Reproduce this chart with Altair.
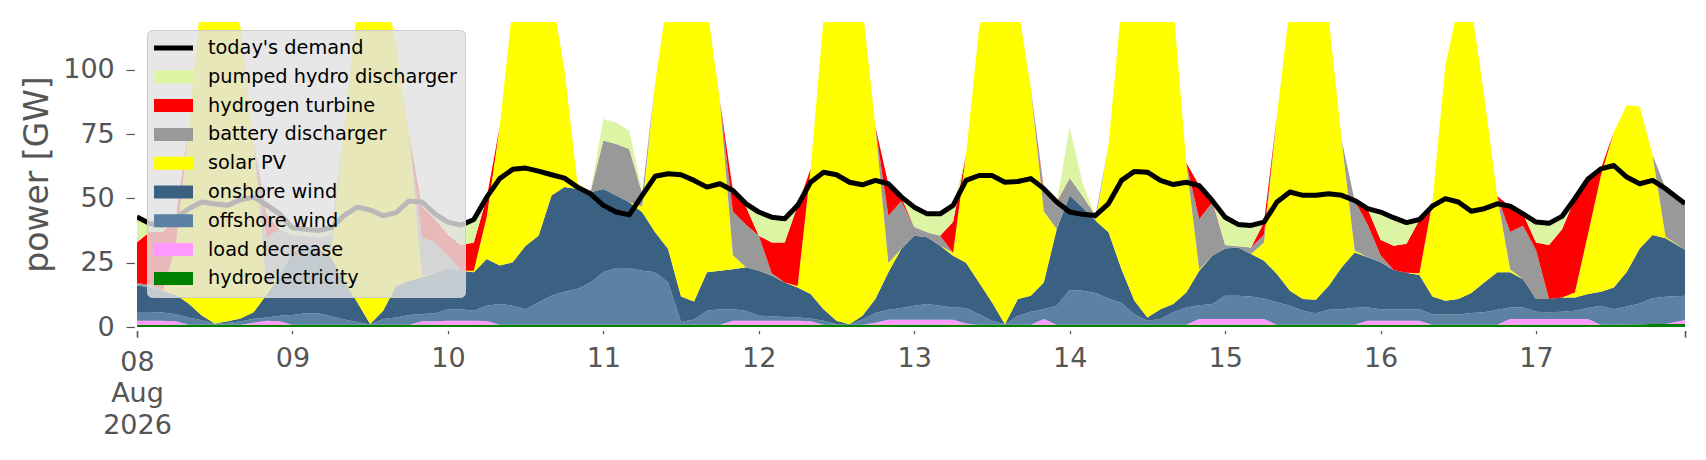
import altair as alt
import pandas as pd

# hours after 2026-08-08 00:00 UTC (2-hourly, last sample at 23:00 of the 17th)
hours = list(range(0, 237, 2)) + [239]

hydroelectricity = [
    0.9, 0.9, 0.9, 0.9, 0.9, 0.9, 0.9, 0.9, 0.9, 0.9, 0.9, 0.9,
    0.9, 0.9, 0.9, 0.9, 0.9, 0.9, 0.9, 0.9, 0.9, 0.9, 0.9, 0.9,
    0.9, 0.9, 0.9, 0.9, 0.9, 0.9, 0.9, 0.9, 0.9, 0.9, 0.9, 0.9,
    0.9, 0.9, 0.9, 0.9, 0.9, 0.9, 0.9, 0.9, 0.9, 0.9, 0.9, 0.9,
    0.9, 0.9, 0.9, 0.9, 0.9, 0.9, 0.9, 0.9, 0.9, 0.9, 0.9, 0.9,
    0.9, 0.9, 0.9, 0.9, 0.9, 0.9, 0.9, 0.9, 0.9, 0.9, 0.9, 0.9,
    0.9, 0.9, 0.9, 0.9, 0.9, 0.9, 0.9, 0.9, 0.9, 0.9, 0.9, 0.9,
    0.9, 0.9, 0.9, 0.9, 0.9, 0.9, 0.9, 0.9, 0.9, 0.9, 0.9, 0.9,
    0.9, 0.9, 0.9, 0.9, 0.9, 0.9, 0.9, 0.9, 0.9, 0.9, 0.9, 0.9,
    0.9, 0.9, 0.9, 0.9, 0.9, 0.9, 0.9, 1.0, 1.1, 1.2, 1.2, 1.2,
]
load_decrease = [
    1.5, 1.5, 1.5, 1.3, 0, 0, 0, 0, 0, 0.8, 1.5, 1.3,
    0, 0, 0, 0, 0, 0, 0, 0, 0, 0, 1.3, 1.3,
    1.5, 1.5, 1.5, 1.4, 0, 0, 0, 0, 0, 0, 0, 0,
    0, 0, 0, 0, 0, 0, 0, 0, 0, 0, 1.5, 1.5,
    1.5, 1.5, 1.5, 1.5, 1.3, 0, 0, 0, 0, 0.8, 1.9, 1.9,
    1.9, 1.9, 1.9, 1.9, 0.5, 0, 0, 0, 0, 0, 2.2, 0,
    0, 0, 0, 0, 0, 0, 0, 0, 0, 0, 2.2, 2.2,
    2.2, 2.2, 2.2, 2.2, 0, 0, 0, 0, 0, 0, 0, 1.5,
    1.5, 1.5, 1.5, 1.5, 0, 0, 0, 0, 0, 0, 2.2, 2.2,
    2.2, 2.2, 2.2, 2.2, 2.2, 0, 0, 0, 0, 0, 0, 1.5,
]
offshore_wind = [
    3.4, 3.4, 3.2, 2.8, 2.8, 1.7, 0.4, 0.8, 1.2, 1.5, 1.3, 2.2,
    3.8, 4.4, 4.4, 3.3, 2.0, 1.0, 0.1, 2.2, 2.8, 3.8, 2.9, 3.1,
    4.5, 4.5, 3.9, 6.0, 8.0, 7.4, 6.0, 8.7, 11.3, 12.8, 13.9, 16.4,
    20.4, 22.0, 22.0, 21.0, 20.4, 16.4, 1.0, 2.0, 5.4, 6.0, 4.5, 3.9,
    2.0, 1.8, 1.5, 1.3, 1.1, 1.5, 0.2, 0.0, 2.0, 3.7, 3.9, 4.6,
    5.5, 6.1, 5.5, 4.8, 6.0, 4.1, 1.5, 0.2, 3.5, 5.0, 3.8, 7.4,
    13.6, 13.2, 12.3, 10.2, 8.4, 4.1, 1.5, 2.2, 4.8, 6.7, 5.4, 5.8,
    9.1, 9.1, 8.8, 8.0, 8.7, 7.4, 5.4, 4.4, 5.8, 6.0, 6.6, 5.2,
    4.5, 4.5, 4.5, 4.5, 4.1, 4.0, 4.0, 4.5, 4.8, 5.8, 4.5, 4.5,
    2.8, 2.6, 2.8, 3.2, 4.3, 7.4, 6.0, 7.0, 8.0, 10.0, 10.6, 9.5,
]
onshore_wind = [
    10.3, 9.7, 8.4, 7.5, 5.3, 1.9, 0.1, 0.5, 1.2, 2.5, 8.8, 15.5,
    24.2, 26.6, 25.6, 22.7, 15.0, 7.7, 0.2, 3.2, 12.2, 13.2, 14.2, 15.6,
    16.0, 15.0, 15.0, 18.1, 15.0, 16.9, 24.7, 25.9, 38.9, 40.7, 38.9, 35.1,
    32.4, 28.2, 25.6, 22.7, 15.5, 13.0, 10.0, 7.0, 15.0, 15.0, 15.6, 16.9,
    17.5, 15.7, 13.4, 11.7, 9.5, 4.5, 1.3, 0.2, 1.5, 5.5, 14.6, 22.9,
    27.2, 26.0, 23.3, 20.1, 17.6, 12.3, 7.2, 0.0, 6.5, 6.3, 10.4, 29.8,
    36.6, 32.4, 28.1, 25.7, 13.2, 5.2, 1.3, 3.8, 3.2, 5.8, 13.4, 18.8,
    18.3, 18.7, 16.5, 14.7, 11.0, 5.8, 4.6, 5.3, 9.3, 16.3, 21.5, 19.5,
    18.3, 15.3, 14.2, 13.3, 6.9, 5.3, 6.0, 7.8, 11.6, 14.6, 13.7, 11.0,
    5.0, 5.2, 5.6, 5.2, 5.4, 5.4, 8.5, 13.4, 21.4, 24.6, 22.7, 17.8,
]
solar_pv = [
    0, 0, 0, 19.5, 69, 126, 138, 132, 113, 66, 3.4, 0,
    0, 0, 0, 3, 60, 115, 138.7, 128.6, 94, 57, 0.6, 0,
    0, 0, 0.6, 16.5, 54, 99.7, 103.3, 104.4, 78.8, 45.5, 2.2, 0,
    0, 0, 0, 2.3, 58.1, 99.6, 128, 125, 103.6, 66, 5.4, 0,
    0, 0, 0, 0.5, 48.6, 113, 137.5, 138.8, 120.5, 67, 3.6, 0,
    0, 0, 0, 1.2, 42.1, 98.6, 125.3, 138.8, 114, 80.7, 27.6, 0,
    0, 0, 0, 34.1, 102.4, 124.7, 136.2, 128, 116, 50.5, 0.5, 0,
    0, 0, 0, 7.1, 61.6, 110.8, 124, 124.3, 103.9, 49.3, 0.7, 0,
    0, 0, 0, 0.7, 36.6, 91.5, 114, 111.7, 72.6, 29.6, 1.1, 0,
    0, 0, 0, 1.9, 23.1, 45, 60.3, 64.8, 55.2, 31.1, 0.5, 0,
]
battery_discharger = [
    0.9, 1, 0, 0, 0, 0, 0, 0, 0, 0, 19, 18,
    7, 3.5, 4, 6, 0, 0, 0, 0, 0, 0, 15, 12,
    5, 0, 0, 0, 0, 0, 0, 0, 0, 0, 0, 0,
    18.8, 20.1, 20.7, 5, 0, 0, 0, 0, 0, 0, 17, 16.7,
    13.6, 1, 0, 0, 0, 0, 0, 0, 0, 0, 18.4, 18.6,
    3.4, 1.9, 3.9, 0, 0, 0, 0, 0, 0, 0, 7.8, 9.8,
    6.8, 4.4, 2, 0, 0, 0, 0, 0, 0, 0, 19.5, 20.7,
    1.4, 0.5, 2.5, 3, 0, 0, 0, 0, 0, 0, 19.4, 12.8,
    2.7, 0, 0, 0, 0, 0, 0, 0, 0, 0, 14.5, 20.8,
    19, 0, 0, 0, 0, 0, 0, 0, 0, 0, 19, 18.2,
]
hydrogen_turbine = [
    16, 20.5, 23, 10.5, 0, 0, 0, 0, 0, 0, 9, 0,
    0, 0, 0, 0, 0, 0, 0, 0, 0, 0, 12, 9,
    8, 10, 11, 7.5, 0, 0, 0, 0, 0, 0, 0, 0,
    0, 0, 0, 0, 0, 0, 0, 0, 0, 0, 8.1, 7,
    0, 12, 15.6, 31.3, 0, 0, 0, 0, 0, 0, 12.3, 1.6,
    0, 0, 0, 12, 0, 0, 0, 0, 0, 0, 1, 0.6,
    0, 0, 0, 0, 0, 0, 0, 0, 0, 0, 13, 0.7,
    0, 0, 0, 4.8, 0, 0, 0, 0, 0, 0, 0, 6,
    6, 9.4, 11.3, 20.8, 0, 0, 0, 0, 0, 0, 10, 4.5,
    3, 21, 26.4, 36.5, 21.5, 2.7, 0, 0, 0, 0, 0, 0,
]
pumped_hydro_discharger = [
    9.8, 3.2, 2.6, 0, 0, 0, 0, 0, 0, 0, 3.5, 6,
    2.6, 2.5, 2.5, 2.6, 0, 0, 0, 0, 0, 0, 1.6, 2,
    4.8, 7.6, 9, 0, 0, 0, 0, 0, 0, 0, 0, 0,
    8.4, 8.2, 7.1, 1, 0, 0, 0, 0, 0, 0, 0, 1,
    8.9, 9.7, 9.1, 0, 0, 0, 0, 0, 0, 0, 0, 0,
    7.6, 7.1, 8.4, 6.3, 0, 0, 0, 0, 0, 0, 0, 0,
    20, 5, 0, 0, 0, 0, 0, 0, 0, 0, 0, 0,
    10.7, 8.4, 8.5, 0, 0, 0, 0, 0, 0, 0, 0, 0,
    10.7, 10.8, 8.1, 0, 0, 0, 0, 0, 0, 0, 0, 0,
    7.8, 8.3, 5, 0, 0, 0, 0, 0, 0, 0, 0, 0,
]
todays_demand = [
    42.8, 40.2, 39.6, 42.5, 46.0, 48.6, 47.8, 47.3, 49.5, 50.5, 47.5, 44.0,
    38.6, 38.0, 37.5, 38.6, 43.4, 46.6, 45.5, 43.3, 44.5, 49.0, 48.6, 44.0,
    40.8, 39.6, 41.8, 50.5, 57.7, 61.3, 61.8, 60.6, 59.2, 57.9, 54.4, 51.8,
    47.3, 44.7, 43.6, 51.2, 58.6, 59.6, 59.2, 57.0, 54.4, 55.7, 53.1, 48.0,
    44.7, 42.7, 42.1, 47.3, 56.3, 60.2, 59.2, 56.3, 55.3, 57.0, 55.7, 50.6,
    46.6, 44.0, 44.0, 47.3, 57.0, 58.9, 58.9, 56.3, 56.6, 57.7, 53.8, 48.6,
    44.7, 43.8, 43.4, 48.0, 57.0, 60.5, 60.2, 57.0, 55.4, 56.3, 55.0, 49.2,
    42.7, 39.9, 39.5, 40.8, 48.6, 52.5, 51.2, 51.2, 51.8, 51.2, 49.2, 46.0,
    44.7, 42.5, 40.6, 41.8, 47.0, 49.9, 48.6, 45.0, 46.0, 47.9, 47.0, 44.0,
    40.8, 40.3, 43.0, 50.0, 57.5, 61.5, 62.8, 58.3, 55.7, 57.0, 53.8, 48.0,
]

# stack from the bottom up
stack = [
    ("hydroelectricity", hydroelectricity),
    ("load decrease", load_decrease),
    ("offshore wind", offshore_wind),
    ("onshore wind", onshore_wind),
    ("solar PV", solar_pv),
    ("battery discharger", battery_discharger),
    ("hydrogen turbine", hydrogen_turbine),
    ("pumped hydro discharger", pumped_hydro_discharger),
]

legend_names = ["today's demand"] + [name for name, _ in stack[::-1]]
legend_colors = ["#000000", "#dcf5a5", "#ff0000", "#999999", "#ffff00",
                 "#3b6182", "#5b82a3", "#ff99ff", "#008000"]

# legend handles: a thin bar for the demand line, patches for the rest
rect_path = "M-1.95,-0.65H1.95V0.65H-1.95Z"
line_path = "M-1.95,-0.24H1.95V0.24H-1.95Z"
legend_shapes = [line_path] + [rect_path] * 8

start = pd.Timestamp("2026-08-08T00:00:00")
stamps = [(start + pd.Timedelta(hours=h)).strftime("%Y-%m-%dT%H:%M:%SZ") for h in hours]

rows = []
for rank, (name, values) in enumerate(stack):
    for t, v in zip(stamps, values):
        rows.append({"time": t, "carrier": name, "value": v, "rank": rank})
areas_df = pd.DataFrame(rows)
demand_df = pd.DataFrame({"time": stamps, "demand": todays_demand})

x_start = alt.DateTime(year=2026, month=8, date=8, hours=0, utc=True)
x_end = alt.DateTime(year=2026, month=8, date=17, hours=23, utc=True)
x_scale = alt.Scale(type="utc", domain=[x_start, x_end])

# daily minor ticks carry the labels, the two ends of the range get long ticks
is_end = "(utcdate(datum.value) == 8 && utchours(datum.value) == 0) || utchours(datum.value) == 23"
x_axis = alt.Axis(
    values=[alt.DateTime(year=2026, month=8, date=d, utc=True) for d in range(8, 18)] + [x_end],
    labelExpr=("utchours(datum.value) == 23 ? '' : utcdate(datum.value) == 8 ? "
               "['08', 'Aug', '2026'] : utcFormat(datum.value, '%d')"),
    title=None, grid=False, domain=False,
    labelFontSize=27, labelColor="#555555", labelLineHeight=31.5,
    labelPadding=12, labelFlush=False, labelOverlap=False,
    tickColor="#555555", offset=3.5,
    tickSize={"condition": {"test": is_end, "value": 6.7}, "value": 3.3},
    tickWidth={"condition": {"test": is_end, "value": 1.6}, "value": 1.2},
)
y_scale = alt.Scale(domain=[0, 118.6], nice=False, zero=True)
y_axis = alt.Axis(
    values=[0, 25, 50, 75, 100], title="power [GW]", grid=False, domain=False,
    labelFontSize=27, labelColor="#555555", labelPadding=11.7,
    tickColor="#555555", tickSize=8.3, tickWidth=1.2, offset=2.7,
    titleFontSize=33, titleFontWeight="normal", titleColor="#555555",
    titleAngle=270, titleX=-97, titleY=152, titleAlign="center", titleBaseline="middle",
)

legend = alt.Legend(
    orient="none", legendX=10, legendY=8, title=None,
    labelFontSize=19.3, labelColor="#000000", labelLimit=400, labelOffset=24.5,
    symbolSize=400, symbolStrokeWidth=0, symbolOffset=8.5, symbolOpacity=1,
    rowPadding=7.8, padding=8,
    fillColor="rgba(226,226,226,0.82)", strokeColor="#cccccc", cornerRadius=5,
)
color = alt.Color("carrier:N", scale=alt.Scale(domain=legend_names, range=legend_colors),
                  legend=legend)

areas = alt.Chart(areas_df).mark_area(opacity=1, clip=True, interpolate="linear").encode(
    x=alt.X("time:T", scale=x_scale, axis=x_axis),
    y=alt.Y("value:Q", stack="zero", scale=y_scale, axis=y_axis),
    color=color,
    order=alt.Order("rank:Q", sort="ascending"),
)

# empty point layer that only lends its shape scale to the shared legend
handles = alt.Chart(areas_df).mark_point(filled=True, opacity=1).encode(
    x=alt.X("time:T", scale=x_scale),
    y=alt.Y("value:Q", scale=y_scale),
    color=color,
    shape=alt.Shape("carrier:N", scale=alt.Scale(domain=legend_names, range=legend_shapes),
                    legend=legend),
).transform_filter("datum.rank < 0")

demand = alt.Chart(demand_df).mark_line(
    color="black", strokeWidth=5, strokeJoin="round", clip=True
).encode(
    x=alt.X("time:T", scale=x_scale),
    y=alt.Y("demand:Q", scale=y_scale),
)

chart = alt.layer(areas, demand, handles).properties(
    width=1548, height=305,
    autosize=alt.AutoSizeParams(type="none"),
    padding={"left": 129, "top": 14, "right": 10, "bottom": 128},
    background="white",
).configure(font="DejaVu Sans").configure_view(stroke=None)

chart.save("out.html", embed_options={"renderer": "svg", "actions": False})
